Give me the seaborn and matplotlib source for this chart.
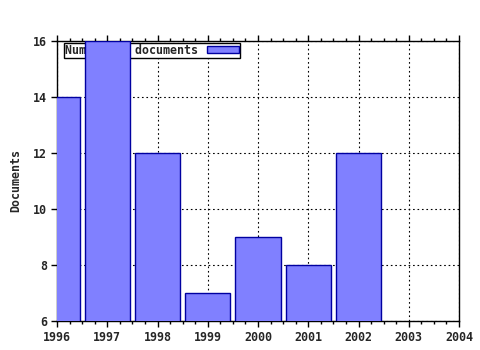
import matplotlib
matplotlib.use("Agg")
import matplotlib.pyplot as plt
import seaborn as sns
import pandas as pd
from matplotlib.patches import Patch
from matplotlib.ticker import MultipleLocator

years = [1996, 1997, 1998, 1999, 2000, 2001, 2002]
documents = [14, 16, 12, 7, 9, 8, 12]
series_label = "Number of documents"
y_label = "Documents"
x_ticks = [1996, 1997, 1998, 1999, 2000, 2001, 2002, 2003, 2004]
y_ticks = [6, 8, 10, 12, 14, 16]

sns.set_style("white")
plt.rcParams['font.family'] = ['DejaVu Sans Mono']
plt.rcParams['font.weight'] = 'bold'

df = pd.DataFrame({"year": years, "docs": documents})

fig = plt.figure(figsize=(4.8, 3.5), dpi=100)
ax = fig.add_axes([57/480, 1-321/350, (459-57)/480, (321-41)/350])

sns.barplot(data=df, x="year", y="docs", native_scale=True, width=0.9,
            color="#8080ff", saturation=1, edgecolor="#0000a0", linewidth=1,
            ax=ax, zorder=3)

FS = 8.4
ax.set_xlim(1996, 2004)
ax.set_ylim(6, 16)
ax.set_xticks(x_ticks)
ax.set_xticklabels([str(t) for t in x_ticks], fontsize=FS, fontweight='bold')
ax.set_yticks(y_ticks)
ax.set_yticklabels([str(t) for t in y_ticks], fontsize=FS, fontweight='bold')
ax.xaxis.set_minor_locator(MultipleLocator(0.25))
ax.set_xlabel("")
ax.set_ylabel(y_label, fontsize=FS, fontweight='bold', labelpad=8)

ax.tick_params(axis='x', which='major', direction='out', length=4, width=1,
               color='black', top=True, bottom=True, pad=3)
ax.tick_params(axis='x', which='minor', direction='out', length=2, width=1,
               color='black', top=True, bottom=True)
ax.tick_params(axis='y', which='major', direction='out', length=4, width=1,
               color='black', left=True, right=False, pad=3)

for s in ax.spines.values():
    s.set_color('black')
    s.set_linewidth(1)
    s.set_visible(True)

ax.set_axisbelow(True)
ax.grid(True, which='major', color='black', linestyle=(0, (1.5, 2.5)), linewidth=0.8)

leg = ax.legend(handles=[Patch(facecolor="#8080ff", edgecolor="#0000a0", linewidth=1)],
                labels=[series_label], loc='upper left', bbox_to_anchor=(0.0174, 0.993),
                markerfirst=False, fancybox=False, framealpha=1, edgecolor='black',
                prop={'size': FS, 'weight': 'bold'}, borderpad=0.08, handlelength=2.7,
                handleheight=0.55, handletextpad=0.8, borderaxespad=0)
leg.get_frame().set_linewidth(1)
leg.set_zorder(2)

fig.savefig("out.png", dpi=100)
